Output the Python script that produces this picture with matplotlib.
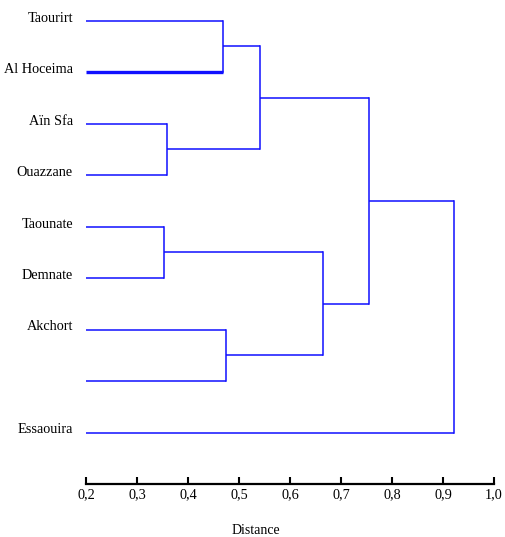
import matplotlib.pyplot as plt

# Data: leaves (top to bottom) and merges (child a, child b, distance)
leaves = ["Taourirt", "Al Hoceima", "Aïn Sfa", "Ouazzane", "Taounate",
          "Demnate", "Akchort", "", "Essaouira"]
merge_a = [0, 2, 9, 4, 6, 12, 11, 15]
merge_b = [1, 3, 10, 5, 7, 13, 14, 8]
merge_dist = [0.469, 0.359, 0.541, 0.352, 0.475, 0.664, 0.755, 0.922]
ticks = [0.2, 0.3, 0.4, 0.5, 0.6, 0.7, 0.8, 0.9, 1.0]

plt.rcParams['font.family'] = ['Liberation Serif', 'DejaVu Serif']

W, H = 505, 537
fig = plt.figure(figsize=(W / 100, H / 100), dpi=100)
ax = fig.add_axes([86 / W, 1 - 484 / H, (494 - 86) / W, (484 - 5.2) / H])

x0 = ticks[0]
pos_y = {i: float(i) for i in range(len(leaves))}
pos_x = {i: x0 for i in range(len(leaves))}
col = '#1010ff'

for k, (a, b, d) in enumerate(zip(merge_a, merge_b, merge_dist)):
    node = len(leaves) + k
    for c in (a, b):
        lw = 2.4 if c == 1 else 1.1
        ax.plot([pos_x[c], d], [pos_y[c], pos_y[c]], color=col, lw=lw,
                solid_capstyle='butt')
    ax.plot([d, d], [pos_y[a], pos_y[b]], color=col, lw=1.1)
    pos_x[node] = d
    pos_y[node] = (pos_y[a] + pos_y[b]) / 2

for i, name in enumerate(leaves):
    ax.text(-0.032, i - 0.05, name, transform=ax.get_yaxis_transform(),
            ha='right', va='center', fontsize=10.3)

ax.set_xlim(0.2, 1.0)
ax.set_ylim(9, -0.3)
for s in ['top', 'left', 'right']:
    ax.spines[s].set_visible(False)
ax.spines['bottom'].set_linewidth(1.6)
ax.set_yticks([])
ax.set_xticks(ticks)
ax.set_xticklabels([f"{t:.1f}".replace('.', ',') for t in ticks], fontsize=10.3)
ax.tick_params(axis='x', direction='in', length=5, width=1.5, pad=3)

fig.text(256 / W, 1 - 531 / H, "Distance", ha='center', va='center', fontsize=10)

fig.savefig('out.png', dpi=100)
